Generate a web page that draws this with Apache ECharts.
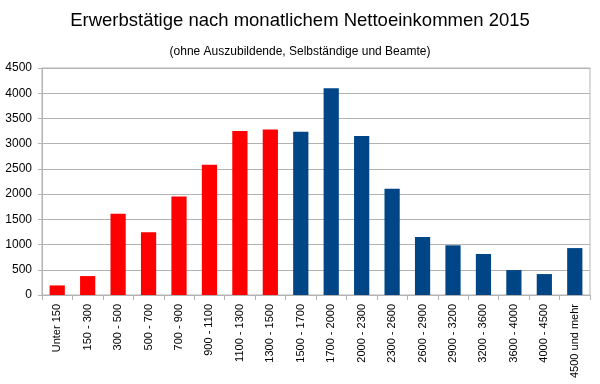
<!DOCTYPE html>
<html><head><meta charset="utf-8">
<script src="https://cdn.jsdelivr.net/npm/echarts@6/dist/echarts.min.js"></script>
<style>html,body{margin:0;padding:0;background:#fff}#c{width:600px;height:384px}</style>
</head><body><div id="c"></div>
<script>
var categories = ["Unter 150","150 - 300","300 - 500","500 - 700","700 - 900","900 - 1100","1100 - 1300","1300 - 1500","1500 - 1700","1700 - 2000","2000 - 2300","2300 - 2600","2600 - 2900","2900 - 3200","3200 - 3600","3600 - 4000","4000 - 4500","4500 und mehr"];
var values = [190,375,1610,1245,1955,2580,3250,3280,3235,4100,3150,2105,1150,985,813,495,415,930];
var lowIncomeCount = 8;
var yTicks = [0,500,1000,1500,2000,2500,3000,3500,4000,4500];

var chart = echarts.init(document.getElementById('c'));
chart.setOption({
  animation:false,
  backgroundColor:'#fff',
  title:[{
    text:'Erwerbstätige nach monatlichem Nettoeinkommen 2015',
    left:'center', top:6,
    textStyle:{fontFamily:'Liberation Sans',fontSize:18.5,fontWeight:'normal',color:'#000'}
  },{
    text:'(ohne Auszubildende, Selbständige und Beamte)',
    left:'center', top:41,
    textStyle:{fontFamily:'Liberation Sans',fontSize:12,fontWeight:'normal',color:'#000'}
  }],
  grid:{left:42,right:10,top:68,bottom:89,show:true,borderColor:'#b3b3b3',borderWidth:1},
  xAxis:{
    type:'category', data:categories,
    axisLine:{lineStyle:{color:'#b3b3b3'}},
    axisTick:{show:true,length:5,lineStyle:{color:'#b3b3b3'}},
    axisLabel:{rotate:90,interval:0,fontFamily:'Liberation Sans',fontSize:11,color:'#000',margin:9}
  },
  yAxis:{
    type:'value', min:yTicks[0], max:yTicks[yTicks.length-1], interval:500,
    axisLine:{show:true,lineStyle:{color:'#b3b3b3'}},
    axisTick:{show:true,length:4,lineStyle:{color:'#b3b3b3'}},
    splitLine:{lineStyle:{color:'#b3b3b3'}},
    axisLabel:{fontFamily:'Liberation Sans',fontSize:12,color:'#000',margin:10,
      formatter:function(v){return String(v);}}
  },
  series:[{
    type:'bar', data:values, barWidth:'50%',
    itemStyle:{color:function(p){return p.dataIndex<lowIncomeCount?'#ff0000':'#004586';}}
  }]
});
</script></body></html>
